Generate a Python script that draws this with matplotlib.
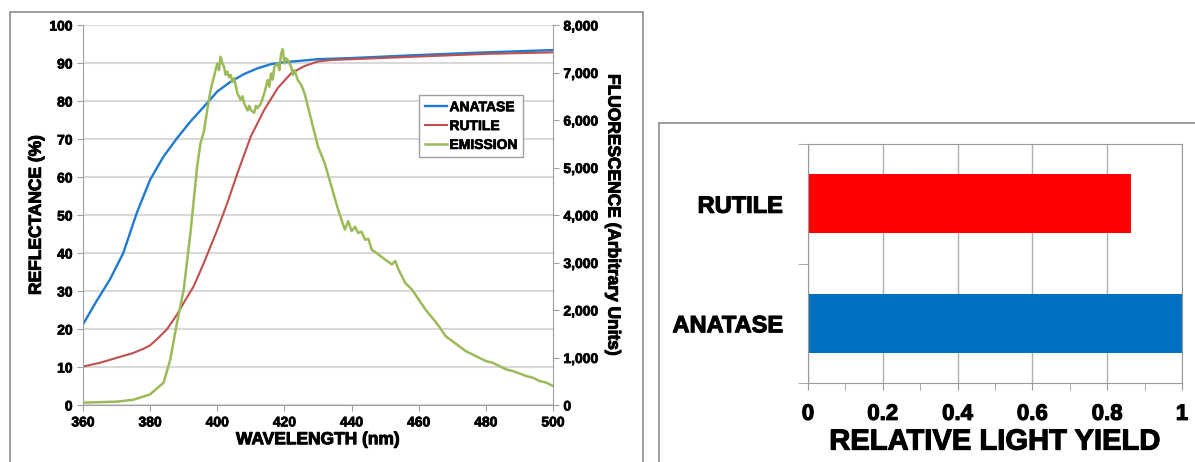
import matplotlib.pyplot as plt
import matplotlib.patheffects as pe
from matplotlib.patches import Rectangle
from matplotlib.ticker import FuncFormatter, MultipleLocator

plt.rcParams['font.family'] = ['Liberation Sans', 'DejaVu Sans']
plt.rcParams['font.weight'] = 'bold'

# Reflectance spectra (%)
wl_anatase = [360, 364, 368, 372, 376, 380, 384, 388, 392, 396, 400, 404, 408,
              412, 416, 420, 430, 440, 460, 480, 500]
refl_anatase = [21.2, 27.3, 33.0, 40.0, 50.5, 59.3, 65.4, 70.2, 74.6, 78.5, 82.5,
                85.1, 87.1, 88.6, 89.7, 90.2, 91.0, 91.3, 92.1, 92.8, 93.4]

wl_rutile = [360, 365, 370, 375, 378, 380, 382, 385, 388, 390, 393, 396, 400, 403,
             406, 410, 414, 418, 422, 426, 430, 434, 440, 460, 480, 500]
refl_rutile = [10.1, 11.1, 12.4, 13.7, 14.8, 15.7, 17.3, 19.9, 23.8, 26.9, 31.3,
               37.4, 46.1, 53.2, 61.0, 70.7, 77.7, 83.4, 87.3, 89.2, 90.4, 90.8,
               91.0, 91.7, 92.4, 92.8]

# Emission spectrum (arbitrary units)
wl_emission = [360, 370, 375, 380, 384, 386, 388, 390, 392, 394, 395, 396, 397, 398,
               399, 400, 400.5, 401, 401.5, 402, 402.5, 403, 403.5, 404, 404.5, 405,
               406, 407, 407.5, 408, 409, 409.5, 410, 411, 411.5, 412, 413, 414, 415,
               415.5, 416, 416.5, 417, 418, 418.5, 419, 419.5, 420, 420.5, 421, 422,
               422.5, 423, 424, 425, 426, 427, 428, 430, 432, 434, 436, 437, 438, 439,
               440, 441, 442, 443, 444, 445, 446, 448, 450, 452, 453, 454, 456, 458,
               460, 462, 464, 466, 468, 470, 472, 474, 476, 478, 480, 482, 484, 486,
               488, 490, 492, 494, 496, 498, 500]
emission = [50, 70, 110, 225, 470, 960, 1730, 2430, 3620, 5020, 5510, 5750, 6210,
            6630, 6910, 7190, 7050, 7330, 7200, 7120, 6950, 7020, 6900, 6950, 6800,
            6880, 6560, 6420, 6500, 6350, 6200, 6300, 6210, 6150, 6300, 6250, 6350,
            6560, 6840, 6700, 6980, 6850, 7120, 7190, 7050, 7400, 7490, 7190, 7300,
            7260, 7120, 6950, 7050, 6840, 6740, 6560, 6280, 6000, 5440, 5090, 4600,
            4110, 3900, 3690, 3870, 3660, 3750, 3620, 3650, 3480, 3500, 3270, 3170,
            3060, 2960, 3030, 2850, 2570, 2430, 2220, 2010, 1840, 1660, 1450, 1345,
            1240, 1135, 1065, 995, 925, 890, 820, 750, 715, 665, 610, 575, 505, 470,
            400]

# Relative light yield
materials = ['ANATASE', 'RUTILE']
light_yield = [1.0, 0.863]
bar_colors = ['#0070c0', '#ff0000']


def thick(w):
    return [pe.withStroke(linewidth=w, foreground='black')]


fig = plt.figure(figsize=(11.95, 4.62), dpi=100)

# panel frames
fig.patches.append(Rectangle((10 / 1195, -0.01), 633 / 1195, 1 - 12 / 462 + 0.01,
                             transform=fig.transFigure, fill=False,
                             edgecolor='#8c8c8c', lw=1.2))
fig.patches.append(Rectangle((659 / 1195, -0.01), 0.5, 1 - 123 / 462 + 0.01,
                             transform=fig.transFigure, fill=False,
                             edgecolor='#8c8c8c', lw=1.2))

# ---- left: reflectance + emission
ax = fig.add_axes([83 / 1195, 1 - 405 / 462, 470 / 1195, 380 / 462])
ax.plot(wl_anatase, refl_anatase, color='#1f7bd0', lw=1.7, label='ANATASE')
ax.plot(wl_rutile, refl_rutile, color='#c0504d', lw=1.5, label='RUTILE')
ax.set_xlim(360, 500)
ax.set_ylim(0, 100)
ax.set_xticks(range(360, 501, 20))
ax.set_yticks(range(0, 101, 10))
ax.grid(axis='y', color='#d9d9d9', lw=1.5)
ax.set_axisbelow(True)
for s in ['top', 'right']:
    ax.spines[s].set_visible(False)
for s in ['left', 'bottom']:
    ax.spines[s].set_color('#a0a0a0')
ax.tick_params(colors='#a0a0a0', labelcolor='black', labelsize=10, length=4)
ax.set_xlabel('WAVELENGTH (nm)', fontsize=12.5, fontweight='bold', labelpad=2,
              path_effects=thick(0.7))
ax.set_ylabel('REFLECTANCE (%)', fontsize=12.5, fontweight='bold', labelpad=4,
              path_effects=thick(0.7))

ax2 = ax.twinx()
ax2.plot(wl_emission, emission, color='#9bbb59', lw=1.8, label='EMISSION')
ax2.set_ylim(0, 8000)
ax2.set_yticks(range(0, 8001, 1000))
ax2.yaxis.set_major_formatter(FuncFormatter(lambda v, p: f'{int(v):,}'))
for s in ['top', 'left', 'bottom']:
    ax2.spines[s].set_visible(False)
ax2.spines['right'].set_color('#a0a0a0')
ax2.tick_params(colors='#a0a0a0', labelcolor='black', labelsize=10, length=4)
ax2.set_ylabel('FLUORESCENCE (Arbitrary Units)', fontsize=12.5, fontweight='bold',
               rotation=270, labelpad=16, path_effects=thick(0.7))

for lab in ax.get_xticklabels() + ax.get_yticklabels() + ax2.get_yticklabels():
    lab.set_path_effects(thick(0.5))

h1, l1 = ax.get_legend_handles_labels()
h2, l2 = ax2.get_legend_handles_labels()
leg = ax2.legend(h1 + h2, l1 + l2, loc='upper left', bbox_to_anchor=(0.70, 0.835),
                 fancybox=False, edgecolor='#a0a0a0', framealpha=1,
                 handlelength=1.6, handletextpad=0.2, borderpad=0.4,
                 labelspacing=0.35, prop={'size': 10, 'weight': 'bold'})
for t in leg.get_texts():
    t.set_path_effects(thick(0.5))

# ---- right: relative light yield
bx = fig.add_axes([808 / 1195, 1 - 383 / 462, 374 / 1195, 239 / 462])
bx.barh(range(len(materials)), light_yield, height=0.49, color=bar_colors)
bx.set_xlim(0, 1)
bx.set_ylim(-0.5, 1.5)
bx.set_yticks(range(len(materials)))
bx.set_yticklabels(materials)
bx.set_yticks([-0.5, 0.5, 1.5], minor=True)
bx.set_xticks([0, 0.2, 0.4, 0.6, 0.8, 1.0])
bx.set_xticklabels(['0', '0.2', '0.4', '0.6', '0.8', '1'])
bx.xaxis.set_minor_locator(MultipleLocator(0.1))
bx.grid(axis='x', color='#b0b0b0', lw=1)
bx.set_axisbelow(True)
for s in bx.spines.values():
    s.set_color('#9a9a9a')
bx.tick_params(axis='y', which='major', length=0, pad=18, labelsize=17)
bx.tick_params(axis='y', which='minor', length=7, color='#9a9a9a')
bx.tick_params(axis='x', which='both', length=5, color='#9a9a9a', labelsize=16,
               pad=10)
bx.set_xlabel('RELATIVE LIGHT YIELD', fontsize=21, fontweight='bold', labelpad=2,
              path_effects=thick(0.8))
for lab in bx.get_xticklabels() + bx.get_yticklabels():
    lab.set_path_effects(thick(0.8))

fig.savefig('out.png', dpi=100)
